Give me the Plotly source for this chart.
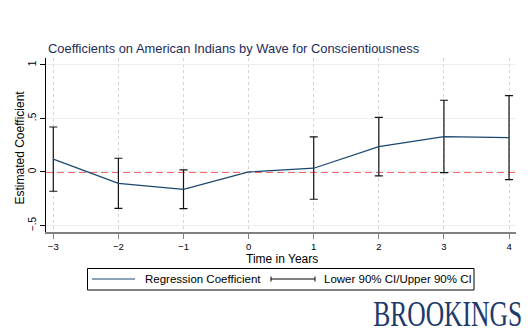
import plotly.graph_objects as go

# ---- data ----
years = [-3, -2, -1, 0, 1, 2, 3, 4]
coef = [0.12, -0.106, -0.162, 0.0, 0.035, 0.237, 0.33, 0.32]
lower = [-0.18, -0.34, -0.343, None, -0.255, -0.037, -0.006, -0.072]
upper = [0.42, 0.128, 0.019, None, 0.327, 0.511, 0.67, 0.713]
ytick_vals = [-0.5, 0, 0.5, 1]
ytick_text = ["\u2212.5", "0", ".5", "1"]

title = "Coefficients on American Indians by Wave for Conscientiousness"

# ---- layout geometry (pixels) ----
WIDTH, HEIGHT = 530, 336
L, R, T, B = 46, 516, 58, 232
PW, PH = R - L, B - T


def px(x):
    return (x - L) / PW


def py(y):
    return (B - y) / PH


ci_y = [c if u is not None else None for c, u in zip(coef, upper)]
err_up = [u - c if u is not None else None for c, u in zip(coef, upper)]
err_dn = [c - l if l is not None else None for c, l in zip(coef, lower)]

fig = go.Figure()
fig.add_trace(go.Scatter(
    x=years, y=ci_y, mode="markers",
    marker=dict(size=1, opacity=0),
    error_y=dict(type="data", symmetric=False, array=err_up, arrayminus=err_dn,
                 color="#111111", thickness=1.2, width=4),
    showlegend=False, hoverinfo="skip"))
fig.add_trace(go.Scatter(
    x=years, y=coef, mode="lines",
    line=dict(color="#1a476f", width=1.2),
    showlegend=False))

fig.add_shape(type="line", xref="paper", yref="y", x0=0, x1=1, y0=0, y1=0,
              line=dict(color="#ff3030", width=1.5, dash="7px,4px"), layer="between")

font = "Liberation Sans, Arial, sans-serif"
shapes = [
    # legend box
    dict(type="rect", xref="paper", yref="paper", x0=px(87.5), x1=px(474), y0=py(268.5), y1=py(290),
         line=dict(color="black", width=1), fillcolor="rgba(0,0,0,0)"),
    dict(type="line", xref="paper", yref="paper", x0=px(92), x1=px(135), y0=py(279), y1=py(279),
         line=dict(color="#1a476f", width=1.2)),
    dict(type="line", xref="paper", yref="paper", x0=px(271), x1=px(315), y0=py(279), y1=py(279),
         line=dict(color="black", width=1)),
    dict(type="line", xref="paper", yref="paper", x0=px(271), x1=px(271), y0=py(276.5), y1=py(281.5),
         line=dict(color="black", width=1)),
    dict(type="line", xref="paper", yref="paper", x0=px(315), x1=px(315), y0=py(276.5), y1=py(281.5),
         line=dict(color="black", width=1)),
]
for s in shapes:
    fig.add_shape(**s)

annotations = [
    dict(text="Regression Coefficient", x=px(143), y=py(279), xanchor="left", yanchor="middle",
         font=dict(size=11.5, color="black", family=font)),
    dict(text="Lower 90% CI/Upper 90% CI", x=px(322), y=py(279), xanchor="left", yanchor="middle",
         font=dict(size=11.5, color="black", family=font)),
    dict(text="Estimated Coefficient", x=px(19), y=py(147.5), textangle=-90, xanchor="center", yanchor="middle",
         font=dict(size=12, color="black", family=font)),
    dict(text="Time in Years", x=px(281.5), y=py(258.5), xanchor="center", yanchor="middle",
         font=dict(size=12, color="black", family=font)),
    dict(text="BROOKINGS", x=px(524), y=py(314), xanchor="right", yanchor="middle",
         font=dict(size=35, color="#1d3a6b", family="Liberation Serif, Times New Roman, serif")),
]
for a in annotations:
    fig.add_annotation(xref="paper", yref="paper", showarrow=False, **a)

fig.update_layout(
    width=WIDTH, height=HEIGHT,
    margin=dict(l=L, r=WIDTH - R, t=T, b=HEIGHT - B, autoexpand=False),
    paper_bgcolor="white", plot_bgcolor="white",
    title=dict(text=title, xref="container", yref="container", x=48 / WIDTH, xanchor="left",
               y=1 - 48.5 / HEIGHT, yanchor="middle",
               font=dict(size=12.9, color="#1e2b5b", family=font)),
    font=dict(family=font, color="black"),
    showlegend=False,
)
fig.update_xaxes(
    range=[-3.112, 4.107], tickmode="array", tickvals=years,
    ticktext=[str(v).replace("-", "\u2212") for v in years],
    showgrid=True, gridcolor="#d4d4d4", griddash="3px,3px", gridwidth=1,
    zeroline=False, showline=True, linecolor="#808080", linewidth=2,
    ticks="outside", ticklen=5, tickcolor="#808080", tickwidth=1,
    tickfont=dict(size=9.5, color="black"),
)
fig.update_yaxes(
    range=[-0.561, 1.065], tickmode="array", tickvals=ytick_vals, ticktext=ytick_text,
    tickangle=-90, showgrid=True, gridcolor="#e8f0f1", gridwidth=1,
    zeroline=False, showline=True, linecolor="black", linewidth=1.2,
    ticks="outside", ticklen=5, tickcolor="black", tickwidth=1,
    tickfont=dict(size=10, color="black"),
)

post = """
document.querySelectorAll('.annotation-text').forEach(function(e){
  if (e.textContent === 'BROOKINGS') {
    e.style.transformBox = 'fill-box';
    e.style.transformOrigin = 'right center';
    e.style.transform = 'scaleX(0.73)';
  }
});
"""
fig.write_html("out.html", post_script=post, config={"displayModeBar": False})
